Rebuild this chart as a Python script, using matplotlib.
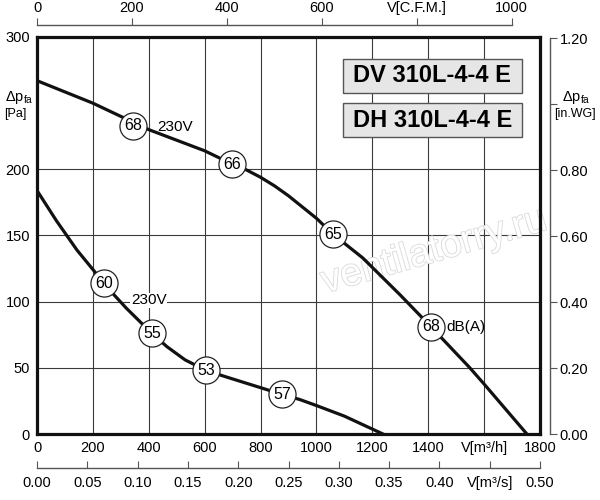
import matplotlib
matplotlib.use("Agg")
import matplotlib.pyplot as plt
import matplotlib.patheffects as pe
from matplotlib.patches import Rectangle

plt.rcParams["font.family"] = ["Liberation Sans", "DejaVu Sans"]
plt.rcParams["mathtext.fontset"] = "custom"
plt.rcParams["mathtext.rm"] = "Liberation Sans"

# =========================
# DATA
# =========================

# upper curve (DV 310L-4-4 E, 230V)
upper_q = [0, 200, 300, 400, 500, 600, 698, 750, 800, 850, 900, 1000, 1059, 1166, 1300, 1410, 1549, 1603, 1753]
upper_p = [267, 250, 240, 230, 222, 214, 204, 199.5, 194, 187.5, 180, 163, 151, 133, 105, 81, 50, 37, 0]

# lower curve (230V)
lower_q = [0, 70, 143, 240, 272, 320, 368, 411, 465, 530, 605, 679, 876, 941, 1000, 1100, 1238]
lower_p = [184, 161, 139, 114, 106, 95, 85, 76, 66, 56, 48, 43, 30, 26, 21.5, 13.5, 0]

# sound level markers dB(A)
upper_mark_q = [343, 698, 1059, 1410]
upper_mark_p = [233, 204, 151, 81]
upper_mark_db = ["68", "66", "65", "68"]

lower_mark_q = [240, 411, 605, 876]
lower_mark_p = [114, 76, 48, 30]
lower_mark_db = ["60", "55", "53", "57"]

x_ticks = [0, 200, 400, 600, 800, 1000, 1200, 1400, 1600, 1800]
x_labels = ["0", "200", "400", "600", "800", "1000", "1200", "1400", "V[m³/h]", "1800"]
y_ticks = [0, 50, 100, 150, 200, 300]
y_labels = ["0", "50", "100", "150", "200", "300"]

cfm_ticks = [0, 200, 400, 600, 800, 1000]
cfm_labels = ["0", "200", "400", "600", "V[C.F.M.]", "1000"]
m3s_ticks = [0, 0.05, 0.10, 0.15, 0.20, 0.25, 0.30, 0.35, 0.40, 0.45, 0.50]
m3s_labels = ["0.00", "0.05", "0.10", "0.15", "0.20", "0.25", "0.30", "0.35", "0.40", "V[m³/s]", "0.50"]
wg_ticks = [0, 0.2, 0.4, 0.6, 0.8, 1.0, 1.2]
wg_labels = ["0.00", "0.20", "0.40", "0.60", "0.80", "", "1.20"]

models = ["DV 310L-4-4 E", "DH 310L-4-4 E"]

# =========================
# FIGURE
# =========================

fig = plt.figure(figsize=(6, 5), dpi=100)
ax = fig.add_axes([37 / 600, 66 / 500, 503 / 600, 397 / 500])
ax.set_xlim(0, 1800)
ax.set_ylim(0, 300)

ax.set_xticks(x_ticks, x_labels)
ax.set_yticks(y_ticks, y_labels)
ax.tick_params(length=0, labelsize=10.5, pad=5)
ax.grid(color="#3a3a3a", lw=0.8, zorder=0)
ax.set_axisbelow(True)
for s in ax.spines.values():
    s.set_linewidth(2.3)
    s.set_color("#111111")

# curves
ax.plot(upper_q, upper_p, color="#111111", lw=2.3, zorder=3, solid_joinstyle="round")
ax.plot(lower_q, lower_p, color="#111111", lw=2.3, zorder=3, solid_joinstyle="round")

# dB markers
for q, p, t in zip(upper_mark_q + lower_mark_q, upper_mark_p + lower_mark_p, upper_mark_db + lower_mark_db):
    ax.plot(q, p, "o", ms=19.5, mfc="white", mec="#222222", mew=0.9, zorder=4)
    ax.text(q, p, t, ha="center", va="center", fontsize=11.5, zorder=5)

ax.text(430, 232, "230V", ha="left", va="center", fontsize=11, zorder=5)
ax.text(336, 101, "230V", ha="left", va="center", fontsize=11, zorder=5,
        bbox=dict(fc="white", ec="none", pad=0.5))
ax.text(1465, 81, "dB(A)", ha="left", va="center", fontsize=11, zorder=5)

# model boxes
for i, name in enumerate(models):
    y0 = [0.859, 0.748][i]
    ax.add_patch(Rectangle((0.608, y0), 0.356, 0.0856, transform=ax.transAxes,
                           fc="#e6e6e6", ec="#555555", lw=1, zorder=2))
    ax.text(0.786, y0 + 0.0428, name, transform=ax.transAxes, ha="center", va="center",
            fontsize=17, fontweight="bold", zorder=3)

# watermark
ax.text(0.79, 0.46, "ventilatorry.ru", transform=ax.transAxes, ha="center", va="center",
        fontsize=28, rotation=16, color="white", zorder=1,
        path_effects=[pe.withStroke(linewidth=1.2, foreground="#d9d9d9")])

# left axis label
fig.text(5 / 600, 1 - 97 / 500, "Δp$_{\\mathrm{fa}}$", ha="left", va="center", fontsize=10.5)
fig.text(4 / 600, 1 - 114 / 500, "[Pa]", ha="left", va="center", fontsize=9)

# =========================
# SECONDARY AXES
# =========================

cfm = ax.secondary_xaxis(1 + 12 / 397, functions=(lambda q: q / 1.699, lambda c: c * 1.699))
cfm.set_xticks(cfm_ticks, cfm_labels)
cfm.tick_params(direction="out", length=5, color="#555555", labelsize=10.5, pad=2)
cfm.spines["top"].set_bounds(0, 1000)
cfm.spines["top"].set_color("#555555")
cfm.spines["top"].set_linewidth(1)

m3s = ax.secondary_xaxis(-34 / 397, functions=(lambda q: q / 3600, lambda s: s * 3600))
m3s.set_xticks(m3s_ticks, m3s_labels)
m3s.tick_params(direction="in", length=5, color="#555555", labelsize=10.5, pad=6)
m3s.spines["bottom"].set_bounds(0, 0.5)
m3s.spines["bottom"].set_color("#555555")
m3s.spines["bottom"].set_linewidth(1)

wg = ax.secondary_yaxis(1 + 10 / 503, functions=(lambda p: p / 249.09, lambda w: w * 249.09))
wg.set_yticks(wg_ticks, wg_labels)
wg.tick_params(direction="out", length=5, color="#555555", labelsize=10.5, pad=2)
wg.spines["right"].set_bounds(0, 1.2)
wg.spines["right"].set_color("#555555")
wg.spines["right"].set_linewidth(1)

fig.text(576 / 600, 1 - 97 / 500, "Δp$_{\\mathrm{fa}}$", ha="center", va="center", fontsize=10.5)
fig.text(575 / 600, 1 - 114 / 500, "[in.WG]", ha="center", va="center", fontsize=9)

fig.savefig("out.png", dpi=100)
